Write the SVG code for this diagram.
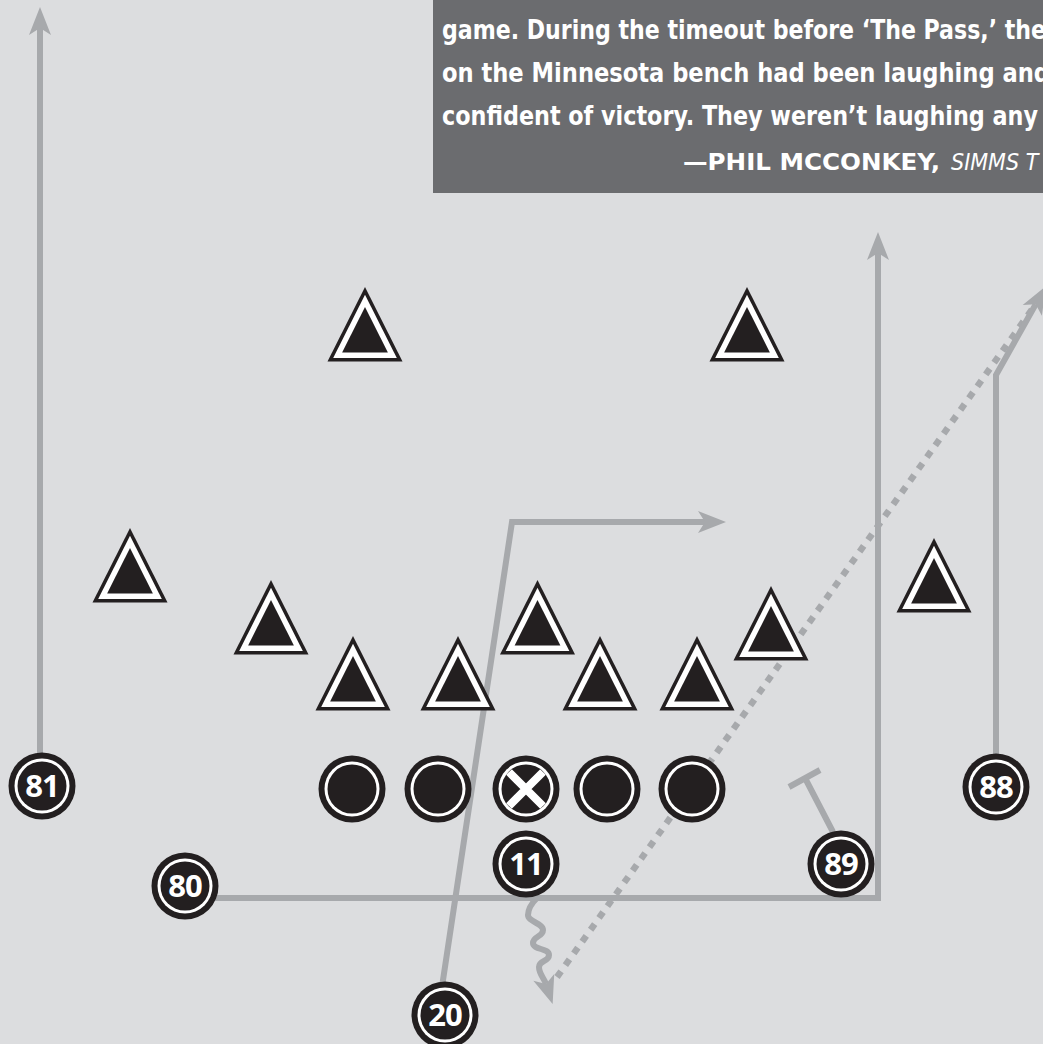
<svg xmlns="http://www.w3.org/2000/svg" xmlns:xlink="http://www.w3.org/1999/xlink" width="1043" height="1044" viewBox="0 0 1043 1044">
<style>
.route{fill:none;stroke:#a7a9ac;stroke-width:6;stroke-linejoin:miter}
.dots{fill:none;stroke:#a7a9ac;stroke-width:6.5;stroke-dasharray:7 7.5}
.quote{font-family:"DejaVu Sans",sans-serif;font-stretch:condensed;font-weight:bold;font-size:27px;fill:#ffffff}
.attr{font-family:"DejaVu Sans",sans-serif;font-stretch:condensed;font-weight:bold;font-size:23px;fill:#ffffff}
.num{font-family:"Open Sans","DejaVu Sans",sans-serif;font-weight:bold;font-size:31px;fill:#ffffff;text-anchor:middle;letter-spacing:-1px}
</style>
<defs>
<marker id="ah" markerUnits="userSpaceOnUse" markerWidth="28" markerHeight="22" viewBox="0 -11 28 22" refX="7" refY="0" orient="auto" overflow="visible">
<path d="M0,-11 L28,0 L0,11 L7,0 Z" fill="#a7a9ac"/>
</marker>
<g id="tri">
<polygon points="0,0 -37.5,74.5 37.5,74.5" fill="#231f20"/>
<polygon points="0,7.8 -31.8,71 31.8,71" fill="#ffffff"/>
<polygon points="0,20 -22.9,65.5 22.9,65.5" fill="#231f20"/>
</g>
<g id="disc">
<circle r="33.5" fill="#231f20"/>
<circle r="27.5" fill="#ffffff"/>
<circle r="24.5" fill="#231f20"/>
</g>
</defs>
<rect width="1043" height="1044" fill="#dcdddf"/>
<g id="quote-box">
<rect x="433" y="0" width="620" height="193" fill="#6b6c6f"/>
<text class="quote" x="442" y="39" textLength="604" lengthAdjust="spacingAndGlyphs">game. During the timeout before ‘The Pass,’ the</text>
<text class="quote" x="442" y="82" textLength="608" lengthAdjust="spacingAndGlyphs">on the Minnesota bench had been laughing and</text>
<text class="quote" x="442" y="125" textLength="596" lengthAdjust="spacingAndGlyphs">confident of victory. They weren’t laughing any</text>
<text class="attr" y="170"><tspan x="683" textLength="257" lengthAdjust="spacingAndGlyphs">—PHIL MCCONKEY,</tspan><tspan x="951" font-weight="normal" font-style="italic">SIMMS T</tspan></text>
</g>
<g id="connectors">
<path class="route" d="M40,760 L40,28" marker-end="url(#ah)"/>
<path class="route" d="M190,898 L878,898 L878,253" marker-end="url(#ah)"/>
<path class="route" d="M440,1000 L512,522 L705,522" marker-end="url(#ah)"/>
<path class="dots" d="M557,977 L1033,308"/>
<path class="route" d="M996,760 L996,375 L1035.7,304.3" marker-end="url(#ah)"/>
<path class="route" d="M537,898 C532,903 528,909 528,915 C528,922 543,923 543,930 C543,937 533,936 533,943 C533,950 549,948 549,955 C549,962 539,960 539,967 C539,974 544,978 546,984" marker-end="url(#ah)"/>
<path class="route" d="M833,832 L805,778 M789,787 L820,770"/>
</g>
<g id="defense">
<use xlink:href="#tri" x="130" y="528"/>
<use xlink:href="#tri" x="271" y="580"/>
<use xlink:href="#tri" x="353" y="636"/>
<use xlink:href="#tri" x="458" y="636"/>
<use xlink:href="#tri" x="537.5" y="580"/>
<use xlink:href="#tri" x="600" y="636"/>
<use xlink:href="#tri" x="697" y="636"/>
<use xlink:href="#tri" x="771" y="586"/>
<use xlink:href="#tri" x="934" y="538"/>
<use xlink:href="#tri" x="365" y="287"/>
<use xlink:href="#tri" x="747" y="287"/>
</g>
<g id="line-1"><use xlink:href="#disc" x="352" y="789"/></g>
<g id="line-2"><use xlink:href="#disc" x="438" y="789"/></g>
<g id="center"><use xlink:href="#disc" x="526" y="789"/><path d="M509,772 L543,806 M543,772 L509,806" stroke="#ffffff" stroke-width="8"/></g>
<g id="line-4"><use xlink:href="#disc" x="607" y="789"/></g>
<g id="line-5"><use xlink:href="#disc" x="692" y="789"/></g>
<g id="p81"><use xlink:href="#disc" x="42" y="786"/><text class="num" x="42" y="797">81</text></g>
<g id="p80"><use xlink:href="#disc" x="185" y="886"/><text class="num" x="185" y="897">80</text></g>
<g id="p11"><use xlink:href="#disc" x="526" y="864"/><text class="num" x="526" y="875">11</text></g>
<g id="p89"><use xlink:href="#disc" x="841" y="864"/><text class="num" x="841" y="875">89</text></g>
<g id="p88"><use xlink:href="#disc" x="996" y="787"/><text class="num" x="996" y="798">88</text></g>
<g id="p20"><use xlink:href="#disc" x="445" y="1015"/><text class="num" x="445" y="1026">20</text></g>
</svg>
